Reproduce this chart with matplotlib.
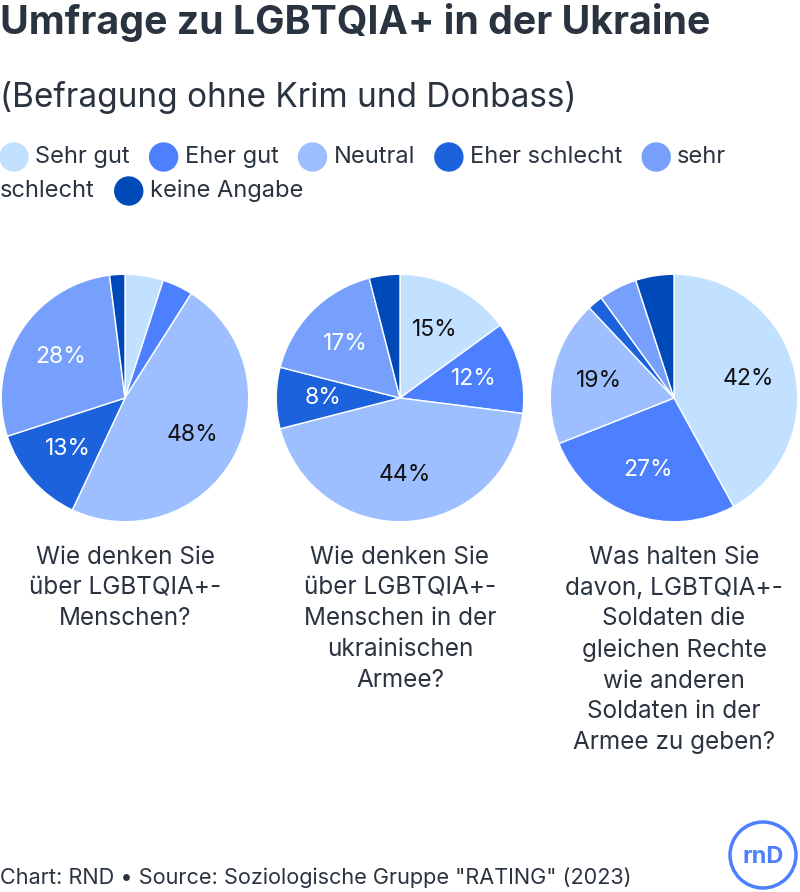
import matplotlib
matplotlib.use("Agg")
import matplotlib.pyplot as plt
from matplotlib.patches import Circle

plt.rcParams['font.family'] = ['Inter', 'DejaVu Sans']

# ---- data ----
categories = ["Sehr gut", "Eher gut", "Neutral", "Eher schlecht", "sehr schlecht", "keine Angabe"]
colors = ["#c2e0ff", "#4d80ff", "#9dbfff", "#1c62dc", "#76a0fc", "#0049b8"]
label_colors = ["#111111", "#ffffff", "#111111", "#ffffff", "#ffffff", "#ffffff"]

q1_values = [5, 4, 48, 13, 28, 2]
q2_values = [15, 12, 44, 8, 17, 4]
q3_values = [42, 27, 19, 2, 5, 5]
series = [q1_values, q2_values, q3_values]

questions = [
    "Wie denken Sie\nüber LGBTQIA+-\nMenschen?",
    "Wie denken Sie\nüber LGBTQIA+-\nMenschen in der\nukrainischen\nArmee?",
    "Was halten Sie\ndavon, LGBTQIA+-\nSoldaten die\ngleichen Rechte\nwie anderen\nSoldaten in der\nArmee zu geben?",
]

title = "Umfrage zu LGBTQIA+ in der Ukraine"
subtitle = "(Befragung ohne Krim und Donbass)"
footer = 'Chart: RND • Source: Soziologische Gruppe "RATING" (2023)'

TEXT = "#2a3440"
W, H = 800, 892
fig = plt.figure(figsize=(W / 100, H / 100), dpi=100)
fig.patch.set_facecolor("white")

def fx(px):
    return px / W

def fy(py):
    return 1 - py / H

fig.text(fx(0), fy(23), title, fontsize=28.3, fontweight="bold", color=TEXT, va="center", ha="left")
fig.text(fx(0), fy(97), subtitle, fontsize=24, color=TEXT, va="center", ha="left")

# ---- legend (flow layout) ----
renderer = fig.canvas.get_renderer()
leg_fs = 17
row_y = [157, 191]
row = 0
x = 0.0
r_c = 14
gap_after_circle = 7
gap_item = 20

def text_width(s):
    t = fig.text(0, 0, s, fontsize=leg_fs)
    w = t.get_window_extent(renderer).width
    t.remove()
    return w

for cat, col in zip(categories, colors):
    words = cat.split(" ")
    if x + 2 * r_c + gap_after_circle + text_width(words[0]) > W:
        row += 1
        x = 0
    cy = row_y[row]
    fig.patches.append(Circle(((x + r_c) / 100, (H - cy) / 100), r_c / 100,
                              transform=fig.dpi_scale_trans, color=col))
    x += 2 * r_c + gap_after_circle
    line = ""
    for w in words:
        trial = (line + " " + w).strip()
        if x + text_width(trial) > W and line:
            fig.text(fx(x), fy(row_y[row]), line, fontsize=leg_fs, color=TEXT, va="center", ha="left")
            row += 1
            x = 0
            line = w
        else:
            line = trial
    fig.text(fx(x), fy(row_y[row]), line, fontsize=leg_fs, color=TEXT, va="center", ha="left")
    x += text_width(line) + gap_item

# ---- pies ----
centers = [(125, 398), (400, 398), (674, 398)]
radius = 125
for (cx, cy), vals, q in zip(centers, series, questions):
    ax = fig.add_axes([fx(cx - radius), fy(cy + radius), fx(2 * radius), 2 * radius / H])
    wedges, texts = ax.pie(
        vals, colors=colors, startangle=90, counterclock=False, radius=1,
        labels=[f"{v}%" if v >= 8 else "" for v in vals], labeldistance=0.62,
        wedgeprops=dict(edgecolor="white", linewidth=1),
        textprops=dict(fontsize=16.5, ha="center", va="center"),
    )
    for t, c in zip(texts, label_colors):
        t.set_color(c)
    ax.set_xlim(-1.01, 1.01)
    ax.set_ylim(-1.01, 1.01)
    ax.set_aspect("equal")
    ax.axis("off")
    fig.text(fx(cx), fy(546), q, fontsize=17.5, color=TEXT, ha="center", va="top", linespacing=1.43)

fig.text(fx(0), fy(878), footer, fontsize=15.6, color=TEXT, ha="left", va="center")

# RND logo
logo = Circle((763 / 100, (H - 855) / 100), 33 / 100, transform=fig.dpi_scale_trans,
              fill=False, edgecolor="#4d80ff", linewidth=2.5)
fig.patches.append(logo)
fig.text(fx(763), fy(857), "rnD", fontsize=17, fontweight="bold", color="#4d80ff", ha="center", va="center")

fig.savefig("out.png", dpi=100, facecolor="white")
